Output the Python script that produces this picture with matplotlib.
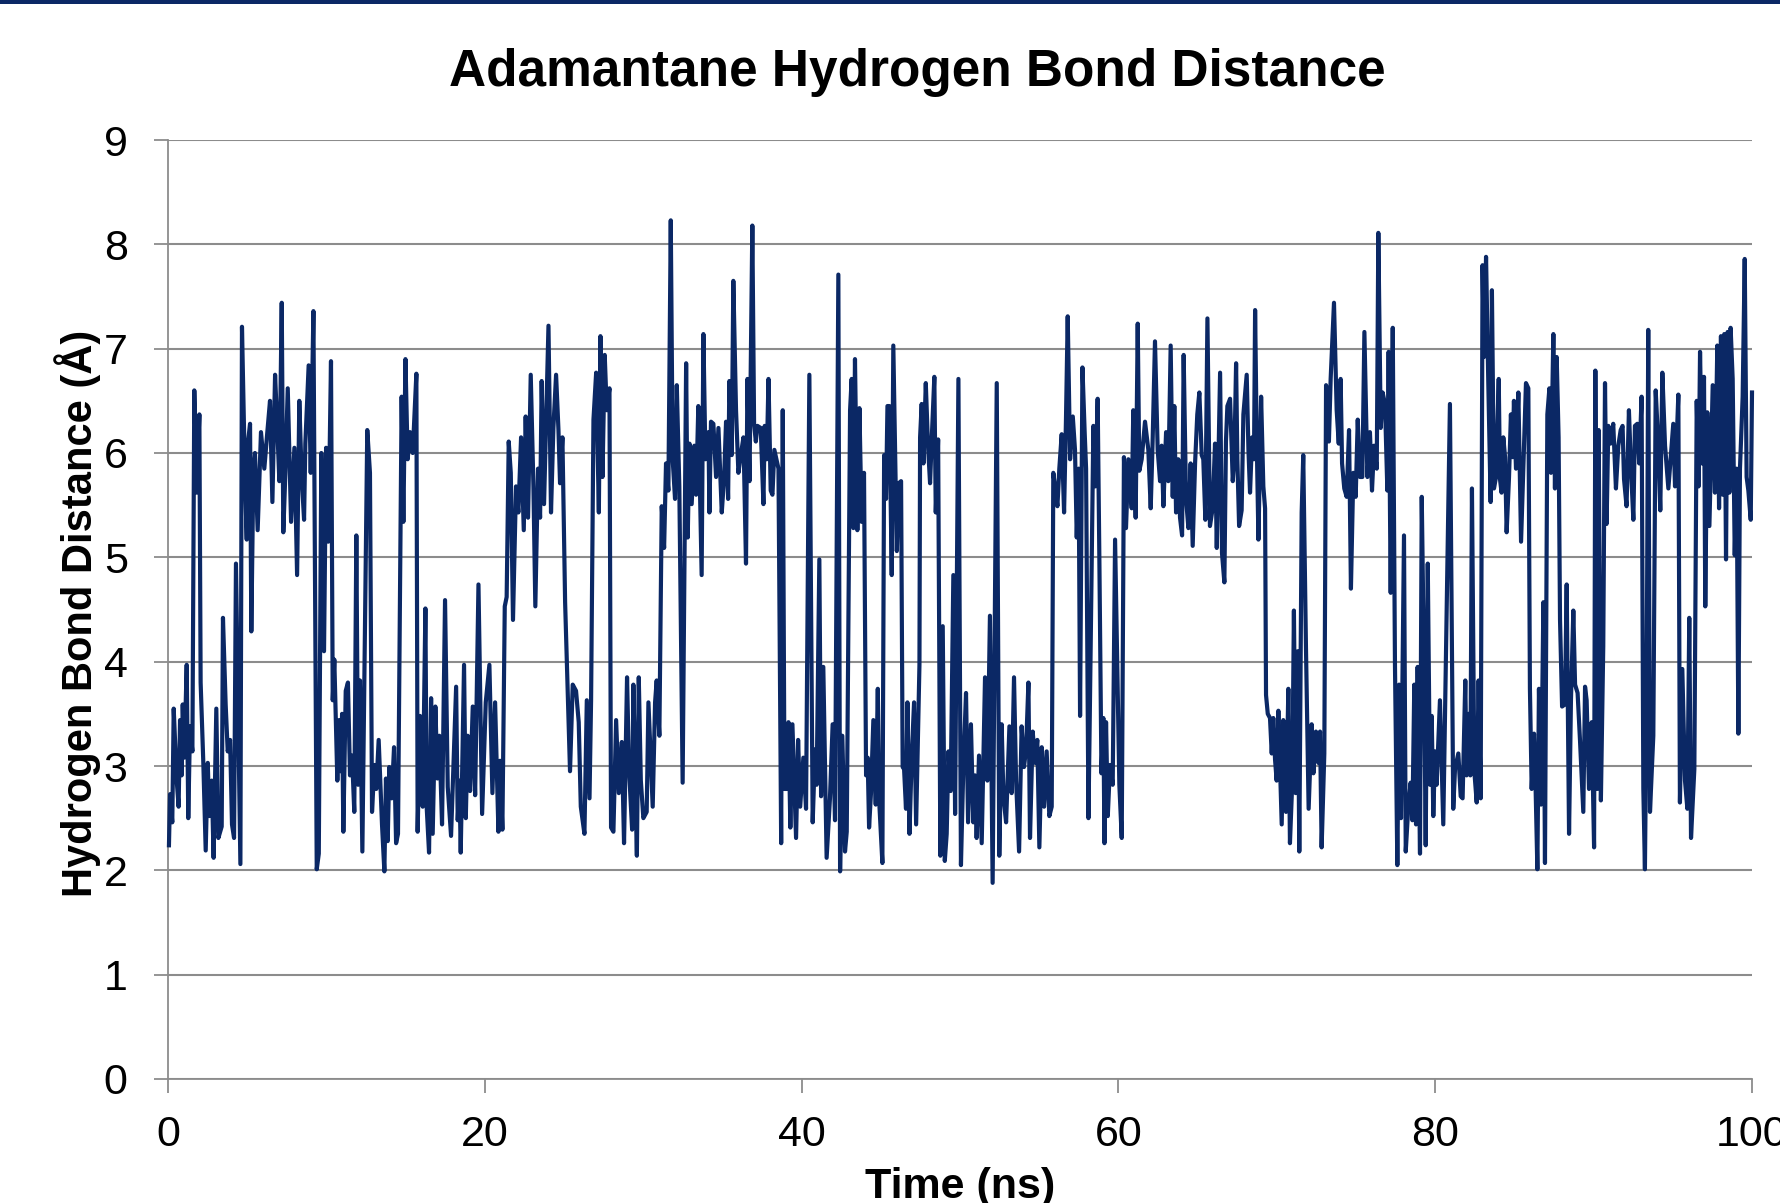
import matplotlib
matplotlib.use("Agg")
import matplotlib.pyplot as plt
from matplotlib.patches import Rectangle

# ---- data ----
time_ns = [
    0.06, 0.13, 0.27, 0.36, 0.55, 0.67, 0.76, 0.86, 0.93, 1.03, 1.18, 1.28, 1.39, 1.54, 1.66, 1.81, 1.98,
    2.06, 2.23, 2.38, 2.51, 2.61, 2.76, 2.88, 3.05, 3.18, 3.39, 3.47, 3.64, 3.77, 3.92, 4.04, 4.17, 4.29,
    4.57, 4.67, 4.86, 4.97, 5.01, 5.18, 5.26, 5.39, 5.49, 5.66, 5.87, 6.08, 6.27, 6.44, 6.59, 6.76, 6.90,
    7.03, 7.18, 7.28, 7.41, 7.56, 7.77, 7.98, 8.15, 8.29, 8.44, 8.59, 8.67, 8.88, 9.01, 9.18, 9.39, 9.52,
    9.68, 9.85, 9.98, 10.12, 10.29, 10.40, 10.50, 10.69, 10.80, 10.90, 10.99, 11.07, 11.22, 11.36, 11.49,
    11.62, 11.76, 11.89, 12.00, 12.12, 12.27, 12.58, 12.75, 12.88, 13.03, 13.15, 13.30, 13.51, 13.66,
    13.76, 13.87, 13.97, 14.12, 14.27, 14.40, 14.52, 14.75, 14.86, 14.99, 15.13, 15.28, 15.45, 15.68,
    15.76, 15.91, 16.08, 16.25, 16.33, 16.48, 16.61, 16.71, 16.88, 17.01, 17.13, 17.30, 17.49, 17.66,
    17.87, 18.02, 18.19, 18.29, 18.40, 18.48, 18.69, 18.80, 18.92, 19.07, 19.24, 19.39, 19.60, 19.83,
    20.06, 20.29, 20.48, 20.65, 20.86, 20.96, 21.11, 21.26, 21.38, 21.51, 21.64, 21.78, 21.97, 22.12,
    22.29, 22.46, 22.58, 22.73, 22.90, 23.07, 23.19, 23.36, 23.49, 23.59, 23.74, 24.02, 24.18, 24.33,
    24.50, 24.65, 24.75, 24.90, 25.07, 25.22, 25.38, 25.55, 25.76, 25.93, 26.06, 26.29, 26.44, 26.61,
    26.71, 26.86, 27.03, 27.20, 27.30, 27.43, 27.57, 27.70, 27.87, 27.97, 28.12, 28.29, 28.46, 28.65,
    28.79, 28.98, 29.11, 29.30, 29.38, 29.49, 29.60, 29.72, 29.85, 30.01, 30.22, 30.33, 30.60, 30.75,
    30.85, 31.02, 31.17, 31.32, 31.44, 31.59, 31.74, 31.86, 32.01, 32.12, 32.28, 32.49, 32.71, 32.81,
    32.92, 33.06, 33.23, 33.34, 33.48, 33.69, 33.80, 33.93, 34.12, 34.18, 34.28, 34.43, 34.60, 34.75,
    34.96, 35.11, 35.23, 35.36, 35.44, 35.59, 35.69, 35.86, 36.01, 36.16, 36.33, 36.49, 36.58, 36.71,
    36.89, 37.00, 37.11, 37.21, 37.42, 37.59, 37.67, 37.80, 37.91, 38.05, 38.16, 38.28, 38.41, 38.54,
    38.71, 38.81, 38.92, 39.06, 39.17, 39.29, 39.42, 39.65, 39.78, 39.91, 40.11, 40.28, 40.49, 40.70,
    40.85, 40.95, 41.12, 41.23, 41.37, 41.58, 41.79, 41.96, 42.11, 42.32, 42.43, 42.57, 42.74, 42.85,
    43.06, 43.16, 43.27, 43.37, 43.52, 43.65, 43.79, 43.94, 44.07, 44.17, 44.26, 44.38, 44.53, 44.68,
    44.81, 44.91, 45.10, 45.21, 45.33, 45.42, 45.54, 45.69, 45.79, 45.90, 46.01, 46.13, 46.28, 46.38,
    46.47, 46.59, 46.68, 46.81, 46.95, 47.10, 47.23, 47.44, 47.48, 47.58, 47.69, 47.84, 47.98, 48.11,
    48.22, 48.38, 48.47, 48.62, 48.76, 48.91, 49.04, 49.16, 49.27, 49.41, 49.58, 49.69, 49.90, 50.06,
    50.21, 50.38, 50.51, 50.69, 50.84, 50.95, 51.05, 51.20, 51.37, 51.58, 51.73, 51.89, 52.06, 52.32,
    52.48, 52.63, 52.74, 52.91, 53.12, 53.26, 53.41, 53.54, 53.73, 53.89, 54.04, 54.17, 54.32, 54.42,
    54.59, 54.74, 54.88, 55.01, 55.16, 55.31, 55.47, 55.64, 55.79, 55.89, 56.00, 56.15, 56.27, 56.42,
    56.57, 56.69, 56.80, 56.95, 57.12, 57.26, 57.37, 57.49, 57.58, 57.73, 57.87, 57.96, 58.11, 58.25,
    58.42, 58.55, 58.69, 58.80, 58.93, 59.05, 59.12, 59.22, 59.33, 59.47, 59.64, 59.79, 60.06, 60.21,
    60.35, 60.48, 60.63, 60.84, 60.94, 61.09, 61.22, 61.32, 61.47, 61.68, 61.89, 62.04, 62.16, 62.31,
    62.48, 62.63, 62.73, 62.84, 63.01, 63.15, 63.30, 63.43, 63.53, 63.64, 63.78, 63.89, 64.02, 64.12,
    64.27, 64.42, 64.56, 64.69, 64.84, 64.98, 65.11, 65.26, 65.36, 65.49, 65.62, 65.78, 65.95, 66.10,
    66.21, 66.33, 66.42, 66.54, 66.69, 66.79, 66.88, 67.05, 67.22, 67.32, 67.43, 67.51, 67.62, 67.78,
    67.89, 68.10, 68.21, 68.31, 68.44, 68.56, 68.63, 68.73, 68.84, 69.01, 69.15, 69.26, 69.32, 69.43,
    69.57, 69.68, 69.78, 69.89, 69.99, 70.10, 70.31, 70.41, 70.58, 70.73, 70.83, 70.98, 71.08, 71.19,
    71.32, 71.42, 71.57, 71.67, 71.84, 72.01, 72.20, 72.31, 72.47, 72.62, 72.73, 72.83, 73.00, 73.11,
    73.29, 73.40, 73.61, 73.78, 73.91, 74.03, 74.12, 74.26, 74.41, 74.56, 74.68, 74.83, 74.98, 75.11,
    75.25, 75.40, 75.53, 75.72, 75.88, 76.01, 76.14, 76.31, 76.41, 76.56, 76.68, 76.83, 76.98, 77.06,
    77.19, 77.32, 77.46, 77.61, 77.72, 77.84, 78.03, 78.14, 78.31, 78.45, 78.56, 78.68, 78.79, 78.89,
    79.04, 79.15, 79.29, 79.40, 79.53, 79.67, 79.78, 79.88, 79.99, 80.09, 80.30, 80.51, 80.93, 81.14,
    81.25, 81.46, 81.61, 81.73, 81.90, 81.98, 82.11, 82.22, 82.32, 82.47, 82.62, 82.74, 82.87, 82.99,
    83.08, 83.21, 83.35, 83.50, 83.58, 83.71, 83.84, 84.01, 84.09, 84.19, 84.30, 84.41, 84.51, 84.66,
    84.78, 84.89, 84.97, 85.10, 85.25, 85.42, 85.56, 85.73, 85.88, 85.98, 86.09, 86.24, 86.34, 86.45,
    86.55, 86.68, 86.83, 86.93, 87.08, 87.21, 87.31, 87.46, 87.56, 87.67, 87.79, 87.88, 88.01, 88.19,
    88.30, 88.45, 88.57, 88.72, 88.83, 88.99, 89.14, 89.35, 89.46, 89.56, 89.71, 89.88, 90.03, 90.11,
    90.24, 90.32, 90.46, 90.61, 90.72, 90.82, 90.93, 91.07, 91.24, 91.41, 91.56, 91.71, 91.83, 91.92,
    92.08, 92.23, 92.36, 92.51, 92.61, 92.76, 92.88, 93.03, 93.14, 93.24, 93.35, 93.45, 93.56, 93.77,
    93.92, 94.08, 94.21, 94.34, 94.51, 94.72, 94.86, 95.03, 95.14, 95.35, 95.45, 95.60, 95.77, 95.92,
    96.04, 96.15, 96.36, 96.51, 96.63, 96.72, 96.84, 96.97, 97.05, 97.18, 97.31, 97.52, 97.66, 97.81,
    97.92, 98.04, 98.15, 98.25, 98.36, 98.46, 98.57, 98.65, 98.78, 98.91, 99.03, 99.14, 99.24, 99.41,
    99.54, 99.66, 99.77, 99.92, 100.0,
]

distance_A = [
    2.24, 2.73, 2.46, 3.55, 2.86, 2.61, 3.44, 2.91, 3.59, 3.08, 3.97, 2.50, 3.38, 3.14, 6.60, 5.62, 6.37,
    3.80, 3.03, 2.19, 3.03, 2.52, 2.86, 2.12, 3.55, 2.31, 2.42, 4.42, 3.59, 3.14, 3.25, 2.44, 2.31, 4.94,
    2.06, 7.21, 5.77, 5.17, 6.05, 6.28, 4.29, 5.85, 6.00, 5.26, 6.20, 5.85, 6.20, 6.50, 5.53, 6.75, 6.24,
    5.73, 7.44, 5.24, 5.81, 6.62, 5.34, 6.05, 4.83, 6.50, 5.77, 5.36, 6.09, 6.84, 5.81, 7.36, 2.01, 2.16,
    6.00, 4.10, 6.05, 5.15, 6.88, 3.63, 4.02, 2.86, 3.44, 2.95, 3.50, 2.37, 3.72, 3.80, 2.91,
    3.10, 2.56, 5.21, 2.82, 3.82, 2.18, 6.22, 5.81, 2.56, 3.01, 2.78, 3.25, 2.44, 1.99,
    2.88, 2.28, 2.99, 2.69, 3.18, 2.26, 2.35, 6.54, 5.34, 6.90, 5.94, 6.20, 6.00, 6.76,
    2.37, 3.48, 2.61, 4.51, 2.61, 2.17, 3.65, 2.35, 3.57, 2.88, 3.29, 2.44, 4.59, 2.80,
    2.33, 2.99, 3.76, 2.48, 2.86, 2.17, 3.97, 2.50, 3.29, 2.76, 3.57, 2.72, 4.74, 2.54,
    3.61, 3.97, 2.74, 3.61, 2.37, 3.05, 2.39, 4.53, 4.62, 6.11, 5.81, 4.40, 5.68, 5.43,
    6.15, 5.26, 6.35, 5.38, 6.75, 5.68, 4.53, 5.85, 5.38, 6.69, 5.51, 7.22, 5.43, 6.24,
    6.75, 6.22, 5.71, 6.15, 4.57, 3.80, 2.95, 3.78, 3.72, 3.42, 2.61, 2.35, 3.63, 2.69,
    3.63, 6.32, 6.77, 5.43, 7.12, 5.77, 6.94, 6.41, 6.62, 2.41, 2.37, 3.44, 2.74, 3.23,
    2.26, 3.85, 2.95, 2.39, 3.78, 2.91, 2.14, 3.85, 2.86, 2.50, 2.56, 3.61, 2.61, 3.61,
    3.82, 3.29, 5.49, 5.09, 5.90, 5.64, 8.23, 5.94, 5.56, 6.65, 5.68, 2.84, 6.86, 5.19,
    6.09, 5.51, 6.07, 5.60, 6.45, 4.83, 7.14, 5.94, 6.20, 5.43, 6.30, 6.28, 5.77, 6.24,
    5.43, 5.77, 6.30, 5.56, 6.69, 5.98, 7.65, 6.41, 5.81, 5.98, 6.15, 4.94, 6.71, 5.73,
    8.18, 6.28, 6.11, 6.26, 6.24, 5.51, 6.26, 5.94, 6.71, 5.64, 5.60, 6.03, 5.94, 5.85,
    2.26, 6.41, 2.78, 2.78, 3.42, 2.41, 3.40, 2.31, 3.25, 2.61, 3.08, 2.59, 6.75, 2.46,
    3.16, 2.82, 4.98, 2.71, 3.95, 2.12, 2.69, 3.40, 2.48, 7.71, 1.99, 3.29, 2.18, 2.37,
    6.41, 6.71, 5.28, 6.90, 5.26, 6.43, 5.34, 5.81, 2.91, 3.08, 2.41, 2.74, 3.44, 2.63,
    3.74, 2.63, 2.07, 5.98, 5.56, 6.45, 6.45, 4.83, 7.03, 6.03, 5.06, 5.71, 5.73, 2.99,
    2.97, 2.59, 3.61, 2.35, 3.08, 3.61, 2.44, 3.97, 6.15, 6.47, 5.90, 6.67, 6.07, 5.71,
    6.15, 6.73, 5.43, 6.13, 2.14, 4.34, 2.09, 2.35, 3.14, 2.76, 4.83, 2.54, 6.71, 2.05,
    2.99, 3.70, 2.46, 3.40, 2.46, 2.91, 2.31, 3.10, 2.26, 3.85, 2.86, 4.44, 1.88, 6.67,
    2.14, 3.40, 2.71, 2.46, 3.38, 2.74, 3.85, 2.86, 2.18, 3.38, 2.99, 3.16, 3.80, 2.31,
    3.33, 3.03, 3.25, 2.22, 3.18, 2.61, 3.14, 2.52, 2.61, 5.81, 5.68, 5.49, 5.85, 6.18,
    5.43, 6.32, 7.31, 5.94, 6.35, 6.03, 5.19, 5.85, 3.48, 6.82, 6.20, 5.85, 2.50, 4.15,
    6.26, 5.68, 6.52, 4.96, 2.93, 3.46, 2.26, 3.42, 2.52, 3.01, 2.82, 5.17, 2.82, 2.31,
    5.96, 5.28, 5.94, 5.47, 6.41, 5.38, 7.24, 5.83, 5.94, 6.30, 6.03, 5.47, 6.11, 7.07,
    6.03, 5.73, 6.07, 5.49, 6.20, 5.73, 7.03, 5.58, 6.45, 5.43, 5.94, 5.38, 5.21, 6.94,
    5.56, 5.28, 5.90, 5.11, 5.90, 6.37, 6.58, 5.98, 5.94, 5.36, 7.29, 5.30, 5.47, 6.09,
    5.09, 6.03, 6.77, 5.04, 4.76, 6.11, 6.45, 6.52, 5.73, 5.96, 6.86, 5.94, 5.30, 5.45,
    6.37, 6.75, 6.03, 5.62, 6.15, 5.94, 7.37, 6.15, 5.17, 6.54, 5.68, 5.47, 3.68, 3.50,
    3.46, 3.12, 3.46, 3.06, 2.86, 3.53, 2.44, 3.44, 2.56, 3.74, 2.26, 2.86, 4.49, 2.74,
    4.10, 2.18, 5.43, 5.98, 4.15, 2.59, 3.40, 2.93, 3.33, 3.03, 3.33, 2.22, 3.12, 6.65,
    6.11, 6.71, 7.44, 6.41, 6.09, 6.71, 5.90, 5.66, 5.58, 6.22, 4.70, 5.81, 5.58, 6.32,
    5.77, 5.77, 7.16, 5.77, 6.20, 5.64, 6.07, 5.85, 8.11, 6.24, 6.58, 6.47, 5.64, 6.97,
    4.66, 7.20, 3.97, 2.05, 3.78, 2.50, 5.21, 2.18, 2.63, 2.84, 2.48, 3.78, 2.44, 3.95,
    2.16, 5.58, 4.00, 2.24, 4.94, 2.82, 3.48, 2.52, 3.14, 2.82, 3.63, 2.44, 6.47, 2.59,
    2.97, 3.12, 2.71, 2.69, 3.82, 2.91, 3.50, 2.91, 5.66, 2.95, 2.65, 3.82, 2.69, 7.80,
    6.92, 7.88, 6.69, 5.53, 7.56, 5.66, 5.77, 6.71, 5.75, 5.62, 6.15, 5.96, 5.24, 5.77,
    6.37, 5.96, 6.50, 5.85, 6.58, 5.15, 5.85, 6.67, 6.62, 3.74, 2.78, 3.31, 2.78, 2.01,
    3.74, 2.63, 4.57, 2.07, 6.37, 6.62, 5.81, 7.14, 5.66, 6.92, 6.15, 4.40, 3.57, 3.59,
    4.74, 2.35, 3.63, 4.49, 3.78, 3.70, 3.25, 2.56, 3.76, 3.63, 2.78, 3.42, 2.22, 6.79,
    2.78, 6.22, 2.67, 4.15, 6.67, 5.32, 6.26, 6.09, 6.28, 5.66, 6.07, 6.22, 6.26, 5.75,
    5.49, 6.41, 5.85, 5.36, 6.26, 6.28, 5.90, 6.54, 2.78, 2.01, 3.72, 7.18, 2.56, 3.29,
    6.60, 6.09, 5.45, 6.77, 6.07, 5.66, 5.94, 6.28, 5.68, 6.56, 2.65, 3.93, 2.86, 2.59,
    4.42, 2.31, 2.97, 6.50, 5.68, 6.97, 5.90, 6.73, 4.53, 6.39, 5.30, 6.65, 5.62, 7.03,
    5.47, 7.12, 5.60, 7.14, 4.98, 7.16, 5.62, 7.20, 6.71, 5.02, 5.85, 3.31, 5.85, 6.54,
    7.86, 5.77, 5.64, 5.36, 6.58,
]

x_ticks = [0, 20, 40, 60, 80, 100]
y_ticks = [0, 1, 2, 3, 4, 5, 6, 7, 8, 9]

title = "Adamantane Hydrogen Bond Distance"
x_label = "Time (ns)"
y_label = "Hydrogen Bond Distance (Å)"

# ---- style ----
plt.rcParams['font.family'] = ['Liberation Sans', 'DejaVu Sans']
navy = '#0B2865'
grid_gray = '#8C8C8C'

fig = plt.figure(figsize=(17.81, 12.03), dpi=100)
fig.patch.set_facecolor('white')

# top dark band
fig.add_artist(Rectangle((0, 1 - 4 / 1203), 1, 4 / 1203, transform=fig.transFigure,
                         facecolor=navy, edgecolor='none'))

ax = fig.add_axes([168 / 1781, 1 - 1079 / 1203, (1752 - 168) / 1781, (1079 - 140) / 1203])
ax.plot(time_ns, distance_A, color=navy, lw=3.0, solid_joinstyle='round', zorder=3, clip_on=False)

ax.set_xlim(0, 100)
ax.set_ylim(0, 9)
ax.set_xticks(x_ticks)
ax.set_yticks(y_ticks)
ax.set_xticklabels([str(v) for v in x_ticks])
ax.set_yticklabels([str(v) for v in y_ticks])

ax.grid(axis='y', color=grid_gray, lw=1.5)
ax.set_axisbelow(True)
for s in ['top', 'right']:
    ax.spines[s].set_visible(False)
for s in ['left', 'bottom']:
    ax.spines[s].set_color(grid_gray)
    ax.spines[s].set_linewidth(1.3)

ax.tick_params(axis='both', colors=grid_gray, labelcolor='black', labelsize=31,
               length=10, width=1.3, direction='out')
ax.tick_params(axis='y', pad=19)
ax.tick_params(axis='x', pad=16)

fig.text(0.5389, 0.004, x_label, ha='center', va='baseline', fontsize=31, fontweight='bold')
fig.text(0.0434, 0.49, y_label, ha='center', va='center', rotation=90,
         fontsize=30, fontweight='bold')
fig.text(0.515, 0.94, title, ha='center', va='center', fontsize=37, fontweight='bold')

fig.savefig('out.png', dpi=100)
